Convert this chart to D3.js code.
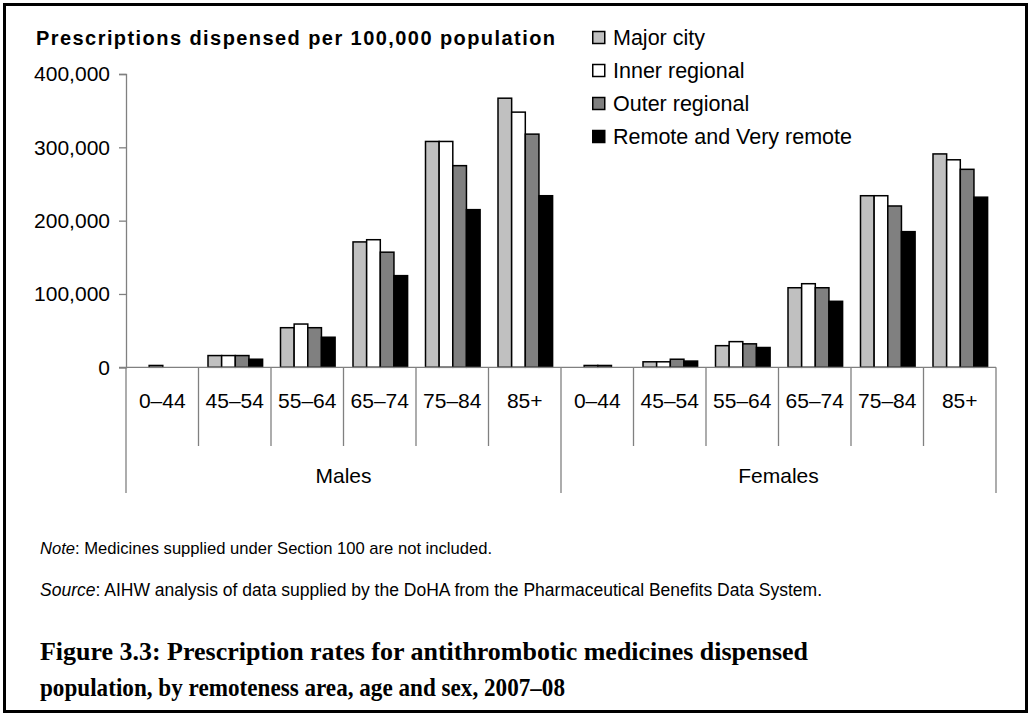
<!DOCTYPE html>
<html>
<head>
<meta charset="utf-8">
<script src="https://cdn.jsdelivr.net/npm/d3@7"></script>
<style>
  body { margin: 0; background: #fff; }
  svg { display: block; }
</style>
</head>
<body>
<div id="chart"></div>
<script>
// Antithrombotic prescription rates by remoteness, age and sex

const sexes = ['Males', 'Females']
const ages = ['0–44', '45–54', '55–64', '65–74', '75–84', '85+']
const series = ['Major city', 'Inner regional', 'Outer regional', 'Remote and Very remote']
const seriesFill = ['#c0c0c0', '#ffffff', '#808080', '#000000']

// values per age group, one array per remoteness area
const males = {
  'Major city':             [0, 16000, 54000, 171000, 308000, 367000],
  'Inner regional':         [2500, 16000, 59000, 174000, 308000, 348000],
  'Outer regional':         [0, 16000, 54000, 157000, 275000, 318000],
  'Remote and Very remote': [0, 11000, 41000, 125000, 215000, 234000]
}
const females = {
  'Major city':             [0, 7500, 29500, 108500, 234000, 291000],
  'Inner regional':         [2500, 7500, 35000, 114000, 234000, 283000],
  'Outer regional':         [2500, 11000, 32000, 108500, 220000, 270000],
  'Remote and Very remote': [0, 8500, 27000, 90000, 185000, 232000]
}
const yTicks = [0, 100000, 200000, 300000, 400000]

const W = 1029, H = 715
const font = 'Liberation Sans, Arial, sans-serif'

const svg = d3.select('#chart').append('svg')
  .attr('width', W).attr('height', H)

// frame
svg.append('rect')
  .attr('x', 4.5).attr('y', 4.5)
  .attr('width', W - 7).attr('height', H - 8)
  .attr('fill', '#fff').attr('stroke', '#000').attr('stroke-width', 3)

// flatten groups
const cats = []
sexes.forEach(s => ages.forEach(a => cats.push(s + '|' + a)))
const rows = []
sexes.forEach((s, si) => {
  const src = si === 0 ? males : females
  ages.forEach((a, ai) => {
    series.forEach((k, ki) => rows.push({ cat: s + '|' + a, key: k, idx: ki, value: src[k][ai] }))
  })
})

const x = d3.scaleBand().domain(cats).range([126, 996])
const xSub = d3.scaleBand().domain(series).range([9.5, 9.5 + 54.6])
const y = d3.scaleLinear().domain([0, 400000]).range([367.3, 74])

// y axis
const yAxis = svg.append('g')
  .attr('transform', 'translate(126,0)')
  .call(d3.axisLeft(y).tickValues(yTicks).tickSize(7).tickPadding(9)
    .tickFormat(d3.format(',')))
yAxis.select('.domain').attr('stroke', '#808080').attr('stroke-width', 1.3)
yAxis.selectAll('.tick line').attr('stroke', '#808080').attr('stroke-width', 1.3)
yAxis.selectAll('.tick text')
  .attr('font-family', font).attr('font-size', 21).attr('fill', '#000')

// bars
svg.append('g').selectAll('rect')
  .data(rows)
  .join('rect')
  .attr('x', d => x(d.cat) + xSub(d.key))
  .attr('y', d => y(d.value))
  .attr('width', xSub.bandwidth())
  .attr('height', d => y(0) - y(d.value))
  .attr('fill', d => seriesFill[d.idx])
  .attr('stroke', '#000')
  .attr('stroke-width', d => d.value > 0 ? 1.5 : 0)

// x axis baseline
svg.append('line')
  .attr('x1', 119).attr('x2', 996)
  .attr('y1', y(0)).attr('y2', y(0))
  .attr('stroke', '#808080').attr('stroke-width', 1.3)

// category separators
const sepG = svg.append('g')
cats.forEach((c, i) => {
  const xs = x(c)
  const isSexEdge = i % ages.length === 0
  sepG.append('line')
    .attr('x1', xs).attr('x2', xs)
    .attr('y1', y(0)).attr('y2', isSexEdge ? 493 : 446)
    .attr('stroke', '#808080').attr('stroke-width', 1.3)
})
sepG.append('line')
  .attr('x1', 996).attr('x2', 996)
  .attr('y1', y(0)).attr('y2', 493)
  .attr('stroke', '#808080').attr('stroke-width', 1.3)

// age labels
svg.append('g').selectAll('text')
  .data(cats)
  .join('text')
  .attr('x', d => x(d) + x.bandwidth() / 2)
  .attr('y', 408)
  .attr('text-anchor', 'middle')
  .attr('font-family', font).attr('font-size', 21)
  .text(d => d.split('|')[1])

// sex labels
svg.append('g').selectAll('text')
  .data(sexes)
  .join('text')
  .attr('x', s => (x(s + '|' + ages[0]) + x(s + '|' + ages[ages.length - 1]) + x.bandwidth()) / 2)
  .attr('y', 483)
  .attr('text-anchor', 'middle')
  .attr('font-family', font).attr('font-size', 21)
  .text(s => s)

// y title
svg.append('text')
  .attr('x', 36).attr('y', 45)
  .attr('font-family', font).attr('font-size', 20).attr('font-weight', 'bold')
  .attr('textLength', 519).attr('lengthAdjust', 'spacing')
  .text('Prescriptions dispensed per 100,000 population')

// legend
const legend = svg.append('g').attr('transform', 'translate(592,0)')
series.forEach((k, i) => {
  const cy = 37.5 + i * 33
  legend.append('rect')
    .attr('x', 0.75).attr('y', cy - 6)
    .attr('width', 12).attr('height', 12)
    .attr('fill', seriesFill[i]).attr('stroke', '#000').attr('stroke-width', 1.5)
  legend.append('text')
    .attr('x', 21).attr('y', cy + 7.5)
    .attr('font-family', font).attr('font-size', 21.5)
    .text(k)
})

// notes
const note = svg.append('text')
  .attr('x', 40).attr('y', 554)
  .attr('font-family', font).attr('font-size', 16.6)
note.append('tspan').attr('font-style', 'italic').text('Note')
note.append('tspan').text(': Medicines supplied under Section 100 are not included.')

const source = svg.append('text')
  .attr('x', 40).attr('y', 596)
  .attr('font-family', font).attr('font-size', 17.5)
source.append('tspan').attr('font-style', 'italic').text('Source')
source.append('tspan').text(': AIHW analysis of data supplied by the DoHA from the Pharmaceutical Benefits Data System.')

// figure caption
const capFont = 'Liberation Serif, Times New Roman, serif'
svg.append('text')
  .attr('x', 40).attr('y', 660)
  .attr('font-family', capFont).attr('font-size', 26).attr('font-weight', 'bold')
  .attr('textLength', 768).attr('lengthAdjust', 'spacingAndGlyphs')
  .text('Figure 3.3: Prescription rates for antithrombotic medicines dispensed')
svg.append('text')
  .attr('x', 40).attr('y', 696)
  .attr('font-family', capFont).attr('font-size', 26).attr('font-weight', 'bold')
  .attr('textLength', 525).attr('lengthAdjust', 'spacingAndGlyphs')
  .text('population, by remoteness area, age and sex, 2007–08')
</script>
</body>
</html>
